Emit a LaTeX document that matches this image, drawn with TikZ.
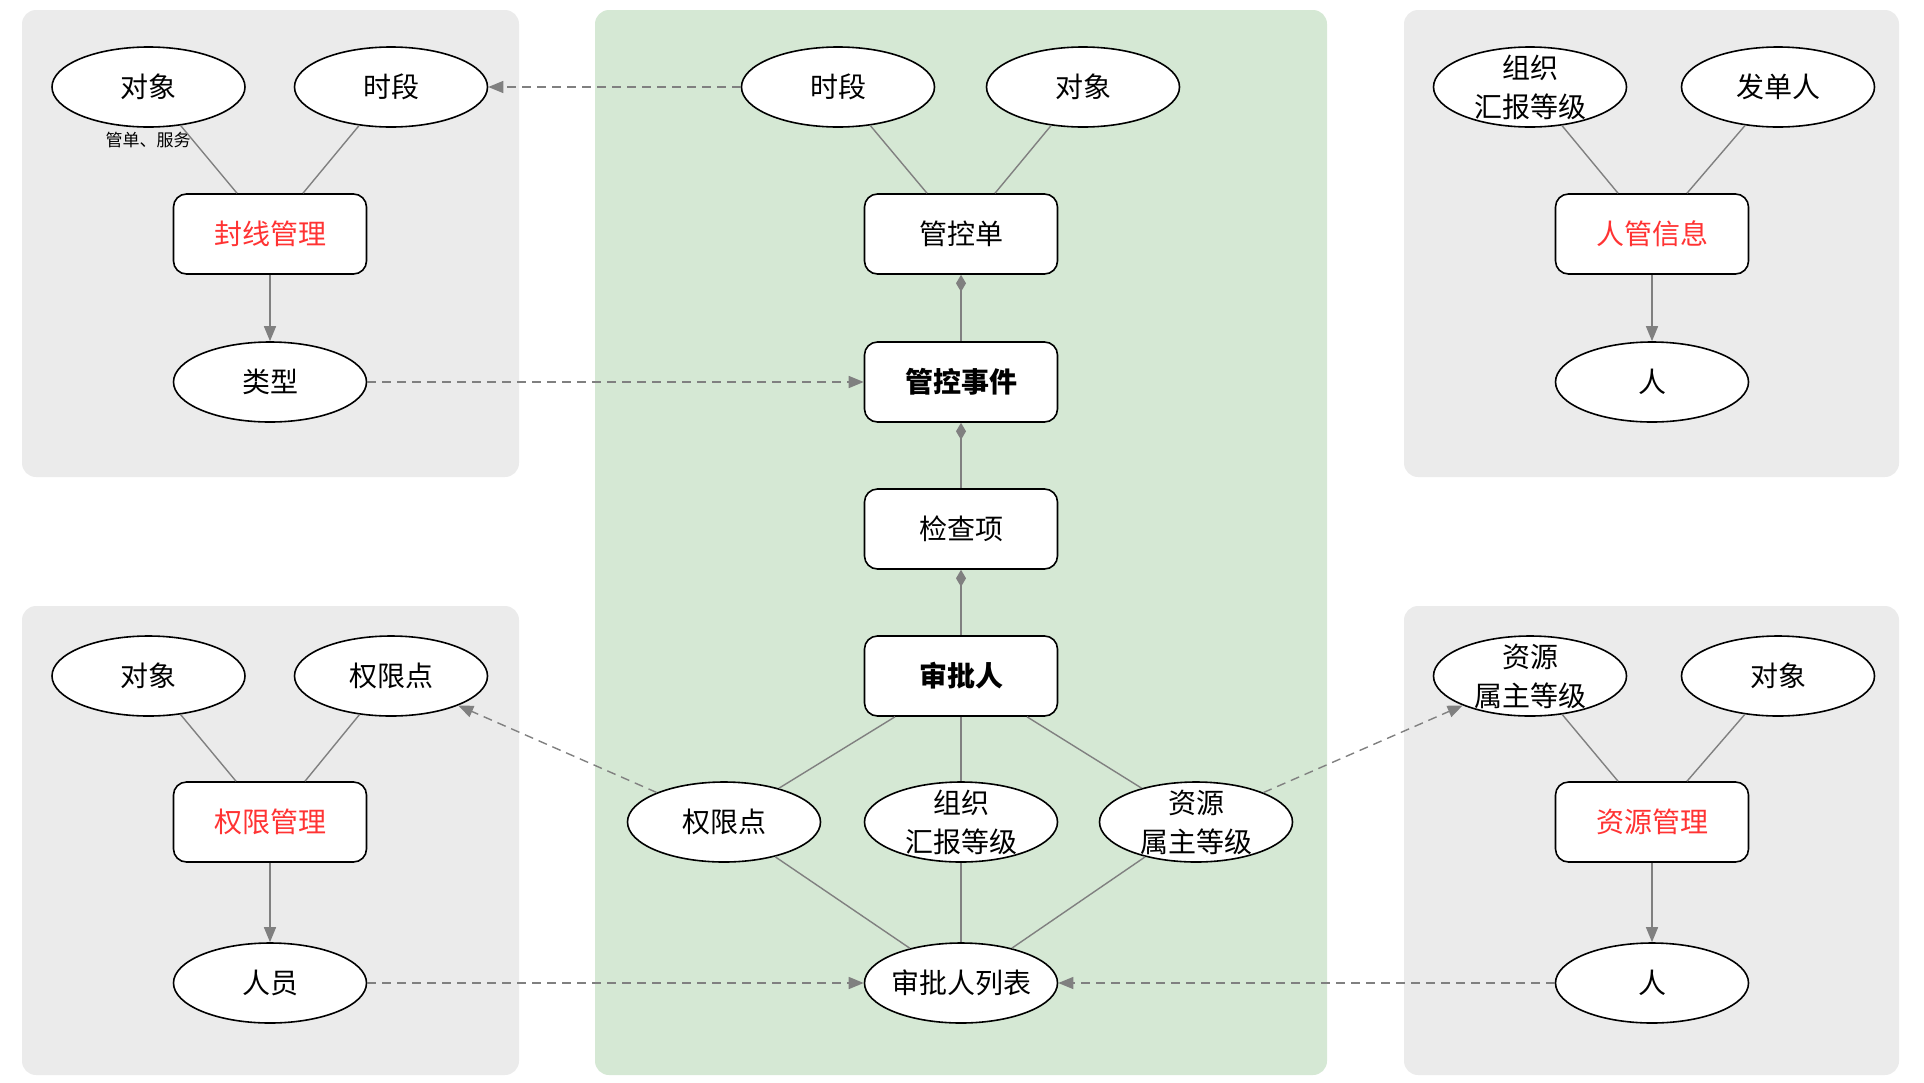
\documentclass[tikz,border=0pt]{standalone}
\usepackage{fontspec}
\setmainfont{Noto Sans CJK SC}
\usetikzlibrary{arrows.meta,shapes.geometric}

\definecolor{panelgray}{HTML}{EBEBEB}
\definecolor{panelgreen}{HTML}{D5E8D4}
\definecolor{linkgray}{HTML}{808080}
\definecolor{keyred}{HTML}{FF3333}

\tikzset{
  labelfont/.style={font=\fontsize{28}{39}\selectfont},
  base/.style={draw=black, line width=1.6pt, fill=white, minimum width=193pt,
    minimum height=80pt, inner sep=-3pt, align=center, labelfont},
  attr/.style={base, ellipse},
  entity/.style={base, rounded corners=13pt, inner sep=0pt},
  keyentity/.style={entity, text=keyred},
  twoline/.style={align=center, labelfont, inner sep=0pt},
  panel/.style={rounded corners=14pt, draw=none},
  link/.style={draw=linkgray, line width=1.4pt},
  flow/.style={link, -{Triangle[length=15pt,width=12pt]}},
  ref/.style={link, dash pattern=on 9pt off 6pt, -{Triangle[length=15pt,width=12pt]}},
  part/.style={link, -{Diamond[length=17pt,width=10pt]}},
}

\begin{document}
\begin{tikzpicture}[x=1pt,y=-1pt]
\useasboundingbox (0,0) rectangle (1924,1082);

% background groups
\fill[panel, panelgray]  (22,10)   rectangle (519,477);
\fill[panel, panelgray]  (22,606)  rectangle (519,1075);
\fill[panel, panelgreen] (595,10)  rectangle (1327,1075);
\fill[panel, panelgray]  (1404,10) rectangle (1899,477);
\fill[panel, panelgray]  (1404,606) rectangle (1899,1075);

% top-left group: 封线管理
\node[attr] (tlObj)  at (148.5,87) {对象};
\node[attr] (tlTime) at (391,87) {时段};
\node[keyentity] (tlMgr) at (270,234) {封线管理};
\node[attr] (tlType) at (270,382) {类型};
\node[font=\fontsize{17}{20}\selectfont, inner sep=0pt] (tlNote) at (148,140) {管单、服务};

% centre group
\node[attr] (cTime) at (838,87) {时段};
\node[attr] (cObj)  at (1083,87) {对象};
\node[entity] (cOrder) at (961,234) {管控单};
\node[entity, font=\fontsize{28}{39}\selectfont\bfseries] (cEvent) at (961,382) {管控事件};
\node[entity] (cCheck) at (961,529) {检查项};
\node[entity, font=\fontsize{28}{39}\selectfont\bfseries] (cAppr) at (961,676) {审批人};
\node[attr] (cPerm) at (724,822) {权限点};
\node[attr, label={[twoline]center:{组织\\汇报等级}}] (cOrg) at (961,822) {};
\node[attr, label={[twoline]center:{资源\\属主等级}}] (cRes) at (1196,822) {};
\node[attr] (cList) at (961,983) {审批人列表};

% top-right group: 人管信息
\node[attr, label={[twoline]center:{组织\\汇报等级}}] (trOrg) at (1530,87) {};
\node[attr] (trIssuer) at (1778,87) {发单人};
\node[keyentity] (trMgr) at (1652,234) {人管信息};
\node[attr] (trPerson) at (1652,382) {人};

% bottom-left group: 权限管理
\node[attr] (blObj)  at (148.5,676) {对象};
\node[attr] (blPerm) at (391,676) {权限点};
\node[keyentity] (blMgr) at (270,822) {权限管理};
\node[attr] (blStaff) at (270,983) {人员};

% bottom-right group: 资源管理
\node[attr, label={[twoline]center:{资源\\属主等级}}] (brRes) at (1530,676) {};
\node[attr] (brObj) at (1778,676) {对象};
\node[keyentity] (brMgr) at (1652,822) {资源管理};
\node[attr] (brPerson) at (1652,983) {人};

% connectors: top-left
\draw[link] (tlObj)  -- ([xshift=-33pt]tlMgr.north);
\draw[link] (tlTime) -- ([xshift=33pt]tlMgr.north);
\draw[flow] (tlMgr) -- (tlType);

% connectors: centre
\draw[link] (cTime) -- ([xshift=-34pt]cOrder.north);
\draw[link] (cObj)  -- ([xshift=34pt]cOrder.north);
\draw[part] (cEvent) -- (cOrder);
\draw[part] (cCheck) -- (cEvent);
\draw[part] (cAppr)  -- (cCheck);
\draw[link] ([xshift=-66pt]cAppr.south) -- (cPerm);
\draw[link] (cAppr.south) -- (cOrg);
\draw[link] ([xshift=66pt]cAppr.south) -- (cRes);
\draw[link] (cPerm) -- (cList);
\draw[link] (cOrg)  -- (cList);
\draw[link] (cRes)  -- (cList);

% connectors: top-right
\draw[link] (trOrg)    -- ([xshift=-34pt]trMgr.north);
\draw[link] (trIssuer) -- ([xshift=35pt]trMgr.north);
\draw[flow] (trMgr) -- (trPerson);

% connectors: bottom-left
\draw[link] (blObj)  -- ([xshift=-34pt]blMgr.north);
\draw[link] (blPerm) -- ([xshift=35pt]blMgr.north);
\draw[flow] (blMgr) -- (blStaff);

% connectors: bottom-right
\draw[link] (brRes) -- ([xshift=-34pt]brMgr.north);
\draw[link] (brObj) -- ([xshift=35pt]brMgr.north);
\draw[flow] (brMgr) -- (brPerson);

% cross-group references
\draw[ref] (cTime)  -- (tlTime);
\draw[ref] (tlType) -- (cEvent);
\draw[ref] (cPerm)  -- (blPerm);
\draw[ref] (cRes)   -- (brRes);
\draw[ref] (blStaff)  -- (cList);
\draw[ref] (brPerson) -- (cList);
\end{tikzpicture}
\end{document}
